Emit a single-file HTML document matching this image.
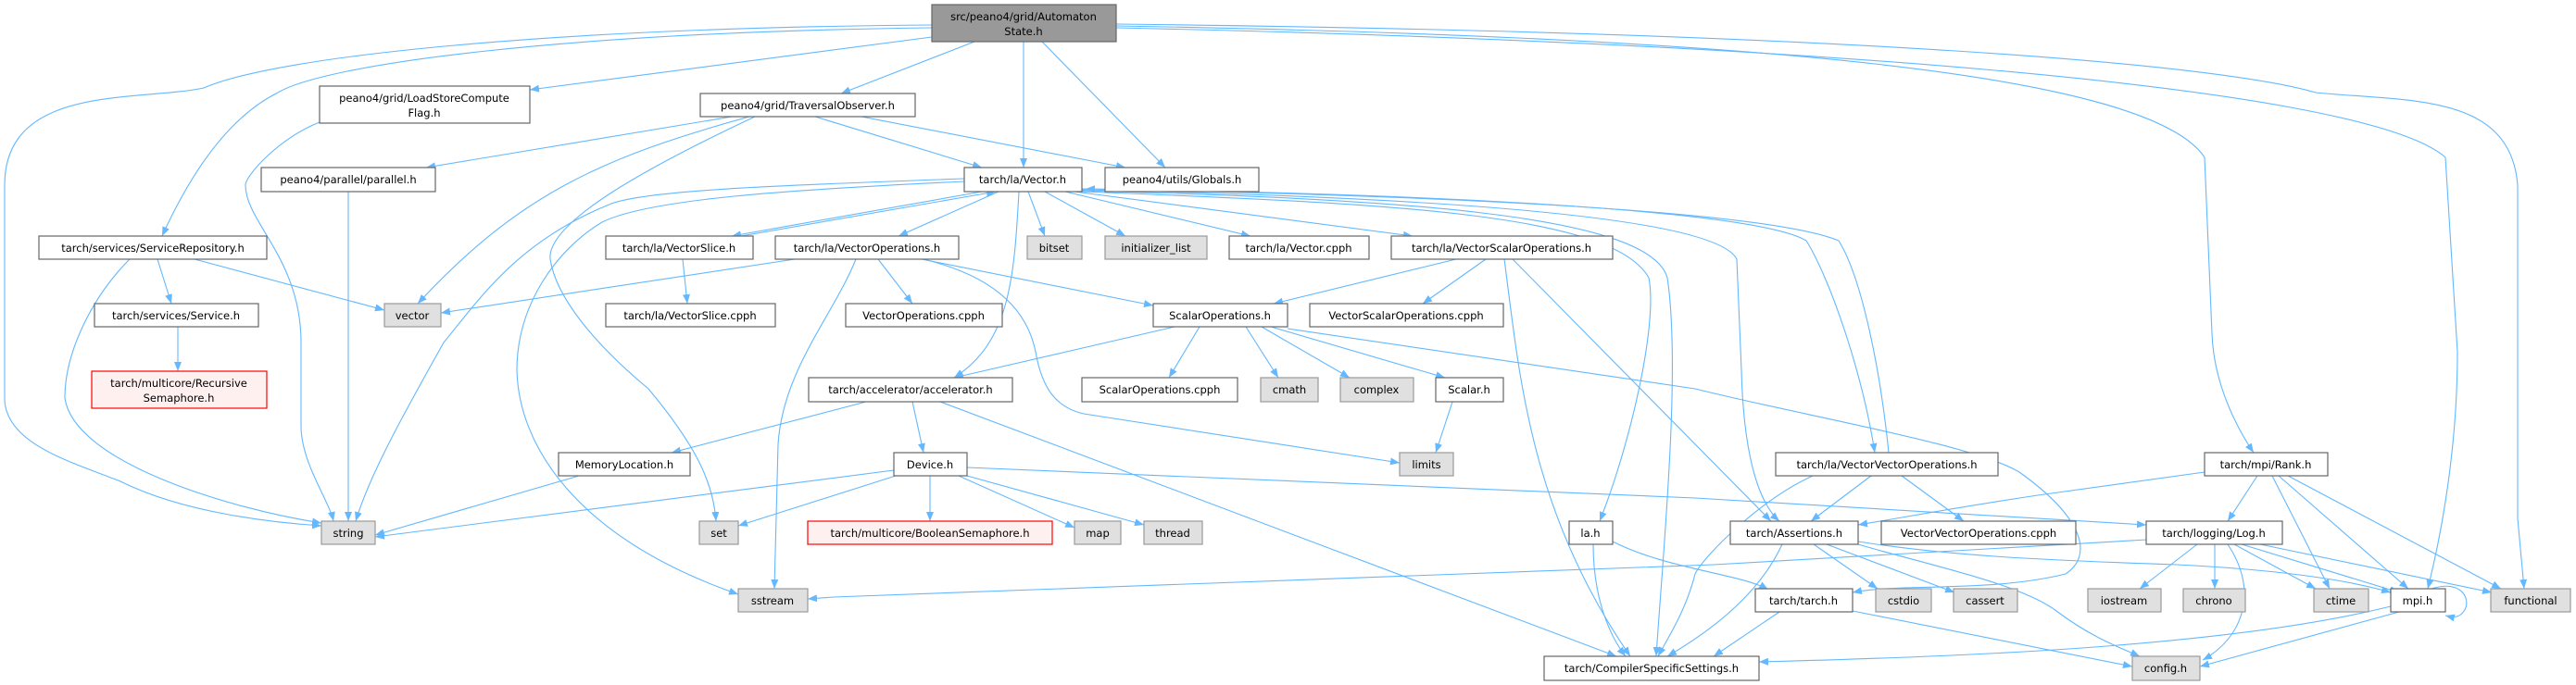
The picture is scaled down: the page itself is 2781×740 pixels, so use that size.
<!DOCTYPE html>
<html><head><meta charset="utf-8"><style>
html,body{margin:0;padding:0;background:#fff;}
svg{display:block;}
text{font-family:"DejaVu Sans","Liberation Sans",sans-serif;font-size:11.5px;fill:#000;text-anchor:middle;}
.e{fill:none;stroke:#63b8ff;stroke-width:1.1;marker-end:url(#a);}
.n{fill:#fff;stroke:#666;stroke-width:1.2;}
.g{fill:#e0e0e0;stroke:#999;stroke-width:1.2;}
.r{fill:#fff0f0;stroke:#ff0000;stroke-width:1.2;}
.m{fill:#999;stroke:#666;stroke-width:1.2;}
</style></head><body>
<svg width="2781" height="740" viewBox="0 0 2781 740" xmlns="http://www.w3.org/2000/svg">
<defs><marker id="a" viewBox="0 0 10 8" refX="10" refY="4" markerWidth="10" markerHeight="8" orient="auto" markerUnits="userSpaceOnUse"><path d="M0,0 L10,4 L0,8 z" fill="#63b8ff"/></marker></defs>
<g>
<path class="e" d="M1006,27 C600,30 300,60 220,95 C150,110 5,90 5,200 L5,430 C5,480 80,500 130,520 C200,555 300,565 347,568"/>
<path class="e" d="M1006,30 C600,35 350,70 300,100 C240,130 200,200 175,255"/>
<path class="e" d="M1006,40 L572,97"/>
<path class="e" d="M1052,45 L908,101"/>
<path class="e" d="M1105,45 L1105,181"/>
<path class="e" d="M1125,45 L1258,181"/>
<path class="e" d="M1205,28 C1900,40 2320,80 2380,170 L2388,360 C2390,420 2420,470 2433,489"/>
<path class="e" d="M1205,30 C1900,45 2550,90 2640,170 L2653,380 C2653,500 2630,600 2621,636"/>
<path class="e" d="M1205,26 C2000,35 2400,70 2500,100 C2600,110 2710,100 2718,200 L2718,560 L2725,636"/>
<path class="e" d="M345,132 C300,150 265,190 265,200 C265,240 325,280 325,370 L325,460 C325,500 355,540 360,563"/>
<path class="e" d="M376,207 L376,563"/>
<path class="e" d="M790,126 L460,181"/>
<path class="e" d="M809,126 C650,170 560,210 451,328"/>
<path class="e" d="M815,126 C700,180 590,240 594,280 C600,320 640,370 700,420 C750,480 770,520 773,563"/>
<path class="e" d="M880,126 L1060,181"/>
<path class="e" d="M930,126 L1215,181"/>
<path class="e" d="M170,280 L185,328"/>
<path class="e" d="M210,280 L415,335"/>
<path class="e" d="M140,280 C100,320 70,380 70,430 C80,500 250,550 347,565"/>
<path class="e" d="M192,353 L192,401"/>
<path class="e" d="M1041,193 C850,200 700,205 660,220 C560,260 520,320 479,370 C440,440 400,510 384,563"/>
<path class="e" d="M1041,196 C850,205 700,215 650,240 C600,270 558,330 558,400 C560,480 620,580 797,642"/>
<path class="e" d="M1060,207 L790,255"/>
<path class="e" d="M800,255 L1075,207"/>
<path class="e" d="M737,280 L742,328"/>
<path class="e" d="M1078,207 L970,255"/>
<path class="e" d="M1110,207 L1128,255"/>
<path class="e" d="M1128,207 L1215,255"/>
<path class="e" d="M1150,207 L1350,255"/>
<path class="e" d="M1160,207 L1525,255"/>
<path class="e" d="M1100,207 C1095,300 1090,370 1030,408"/>
<path class="e" d="M1168,207 C1500,220 1740,230 1780,300 C1790,350 1760,480 1727,563"/>
<path class="e" d="M1168,206 C1500,215 1780,230 1800,300 C1815,400 1795,600 1788,709"/>
<path class="e" d="M1168,205 C1500,212 1850,230 1875,280 L1880,400 C1882,480 1895,540 1921,563"/>
<path class="e" d="M1168,204 C1600,210 1900,230 1950,260 C1975,300 2010,400 2024,489"/>
<path class="e" d="M2039,489 C2030,400 2010,300 1985,260 C1900,225 1500,210 1172,204"/>
<path class="e" d="M858,280 L476,338"/>
<path class="e" d="M948,280 L985,328"/>
<path class="e" d="M995,280 L1245,330"/>
<path class="e" d="M924,280 C900,340 845,400 840,480 L836,636"/>
<path class="e" d="M997,280 C1080,300 1110,340 1118,380 C1125,420 1140,440 1170,447 L1511,500"/>
<path class="e" d="M1572,280 L1375,328"/>
<path class="e" d="M1604,280 L1536,328"/>
<path class="e" d="M1624,280 C1640,400 1650,550 1760,709"/>
<path class="e" d="M1633,280 L1912,563"/>
<path class="e" d="M1268,353 L1030,408"/>
<path class="e" d="M1295,353 L1262,408"/>
<path class="e" d="M1345,353 L1380,408"/>
<path class="e" d="M1362,353 L1457,408"/>
<path class="e" d="M1372,353 L1560,408"/>
<path class="e" d="M1390,355 L1830,420 C1950,450 2130,480 2180,510 C2250,560 2260,600 2230,620 C2150,640 2050,630 2000,640"/>
<path class="e" d="M935,434 L725,489"/>
<path class="e" d="M985,434 L997,489"/>
<path class="e" d="M1015,434 L1745,709"/>
<path class="e" d="M625,514 L405,578"/>
<path class="e" d="M965,508 L405,580"/>
<path class="e" d="M967,514 L797,568"/>
<path class="e" d="M1004,514 L1004,563"/>
<path class="e" d="M1035,514 L1160,570"/>
<path class="e" d="M1044,514 L1235,567"/>
<path class="e" d="M1044,505 L1830,538 L2317,567"/>
<path class="e" d="M1568,434 L1550,489"/>
<path class="e" d="M1720,588 C1720,650 1740,690 1755,709"/>
<path class="e" d="M1741,585 C1800,615 1880,620 1909,637"/>
<path class="e" d="M2318,583 L1850,610 L900,645 L872,647"/>
<path class="e" d="M1924,588 C1900,640 1850,680 1800,709"/>
<path class="e" d="M1958,588 L2027,636"/>
<path class="e" d="M1972,588 L2110,640"/>
<path class="e" d="M2006,588 C2080,610 2180,630 2220,660 C2260,690 2290,700 2310,709"/>
<path class="e" d="M2006,585 C2100,600 2200,605 2350,610 C2450,615 2530,625 2581,640"/>
<path class="e" d="M2020,514 L1955,563"/>
<path class="e" d="M2053,514 L2120,563"/>
<path class="e" d="M1957,514 C1900,540 1840,600 1830,620 C1820,660 1800,690 1790,709"/>
<path class="e" d="M2380,510 L2200,535 C2100,550 2050,560 2006,567"/>
<path class="e" d="M2437,514 L2405,563"/>
<path class="e" d="M2453,514 L2515,636"/>
<path class="e" d="M2460,514 L2600,636"/>
<path class="e" d="M2470,514 L2700,636"/>
<path class="e" d="M2372,588 L2310,636"/>
<path class="e" d="M2391,588 L2391,636"/>
<path class="e" d="M2405,588 C2440,640 2420,690 2378,713"/>
<path class="e" d="M2412,588 L2500,636"/>
<path class="e" d="M2420,588 L2590,640"/>
<path class="e" d="M2440,588 L2690,640"/>
<path class="e" d="M1921,661 L1850,709"/>
<path class="e" d="M2000,660 L2302,720"/>
<path class="e" d="M2625,636 C2660,625 2668,650 2660,660 C2655,668 2648,667 2640,665"/>
<path class="e" d="M2590,661 L2375,720"/>
<path class="e" d="M2581,655 C2400,700 2100,710 1899,715"/>
</g>
<g>
<rect class="m" x="1006" y="5" width="199" height="40"/><text x="1105" y="22">src/peano4/grid/Automaton</text><text x="1105" y="38">State.h</text>
<rect class="n" x="345" y="93" width="227" height="40"/><text x="458" y="110">peano4/grid/LoadStoreCompute</text><text x="458" y="126">Flag.h</text>
<rect class="n" x="756" y="101" width="232" height="25"/><text x="872" y="118">peano4/grid/TraversalObserver.h</text>
<rect class="n" x="282" y="181" width="188" height="26"/><text x="376" y="198">peano4/parallel/parallel.h</text>
<rect class="n" x="1041" y="181" width="127" height="26"/><text x="1104" y="198">tarch/la/Vector.h</text>
<rect class="n" x="1193" y="181" width="166" height="26"/><text x="1276" y="198">peano4/utils/Globals.h</text>
<rect class="n" x="42" y="255" width="246" height="25"/><text x="165" y="272">tarch/services/ServiceRepository.h</text>
<rect class="n" x="654" y="255" width="159" height="25"/><text x="733" y="272">tarch/la/VectorSlice.h</text>
<rect class="n" x="837" y="255" width="198" height="25"/><text x="936" y="272">tarch/la/VectorOperations.h</text>
<rect class="g" x="1109" y="255" width="59" height="25"/><text x="1138" y="272">bitset</text>
<rect class="g" x="1193" y="255" width="110" height="25"/><text x="1248" y="272">initializer_list</text>
<rect class="n" x="1327" y="255" width="151" height="25"/><text x="1402" y="272">tarch/la/Vector.cpph</text>
<rect class="n" x="1502" y="255" width="239" height="25"/><text x="1621" y="272">tarch/la/VectorScalarOperations.h</text>
<rect class="n" x="102" y="328" width="177" height="25"/><text x="190" y="345">tarch/services/Service.h</text>
<rect class="g" x="415" y="328" width="61" height="25"/><text x="445" y="345">vector</text>
<rect class="n" x="654" y="328" width="183" height="25"/><text x="745" y="345">tarch/la/VectorSlice.cpph</text>
<rect class="n" x="913" y="328" width="169" height="25"/><text x="997" y="345">VectorOperations.cpph</text>
<rect class="n" x="1245" y="328" width="145" height="25"/><text x="1317" y="345">ScalarOperations.h</text>
<rect class="n" x="1414" y="328" width="209" height="25"/><text x="1518" y="345">VectorScalarOperations.cpph</text>
<rect class="r" x="99" y="401" width="189" height="40"/><text x="193" y="418">tarch/multicore/Recursive</text><text x="193" y="434">Semaphore.h</text>
<rect class="n" x="873" y="408" width="220" height="26"/><text x="983" y="425">tarch/accelerator/accelerator.h</text>
<rect class="n" x="1168" y="408" width="168" height="26"/><text x="1252" y="425">ScalarOperations.cpph</text>
<rect class="g" x="1361" y="408" width="62" height="26"/><text x="1392" y="425">cmath</text>
<rect class="g" x="1447" y="408" width="79" height="26"/><text x="1486" y="425">complex</text>
<rect class="n" x="1550" y="408" width="73" height="26"/><text x="1586" y="425">Scalar.h</text>
<rect class="n" x="603" y="489" width="142" height="25"/><text x="674" y="506">MemoryLocation.h</text>
<rect class="n" x="965" y="489" width="79" height="25"/><text x="1004" y="506">Device.h</text>
<rect class="g" x="1511" y="489" width="58" height="25"/><text x="1540" y="506">limits</text>
<rect class="n" x="1917" y="489" width="240" height="25"/><text x="2037" y="506">tarch/la/VectorVectorOperations.h</text>
<rect class="n" x="2380" y="489" width="133" height="25"/><text x="2446" y="506">tarch/mpi/Rank.h</text>
<rect class="g" x="347" y="563" width="58" height="25"/><text x="376" y="580">string</text>
<rect class="g" x="755" y="563" width="42" height="25"/><text x="776" y="580">set</text>
<rect class="r" x="872" y="563" width="264" height="25"/><text x="1004" y="580">tarch/multicore/BooleanSemaphore.h</text>
<rect class="g" x="1160" y="563" width="50" height="25"/><text x="1185" y="580">map</text>
<rect class="g" x="1235" y="563" width="63" height="25"/><text x="1266" y="580">thread</text>
<rect class="n" x="1694" y="563" width="47" height="25"/><text x="1717" y="580">la.h</text>
<rect class="n" x="1868" y="563" width="138" height="25"/><text x="1937" y="580">tarch/Assertions.h</text>
<rect class="n" x="2031" y="563" width="210" height="25"/><text x="2136" y="580">VectorVectorOperations.cpph</text>
<rect class="n" x="2317" y="563" width="147" height="25"/><text x="2390" y="580">tarch/logging/Log.h</text>
<rect class="g" x="797" y="636" width="75" height="25"/><text x="834" y="653">sstream</text>
<rect class="n" x="1895" y="636" width="105" height="25"/><text x="1947" y="653">tarch/tarch.h</text>
<rect class="g" x="2025" y="636" width="60" height="25"/><text x="2055" y="653">cstdio</text>
<rect class="g" x="2109" y="636" width="69" height="25"/><text x="2143" y="653">cassert</text>
<rect class="g" x="2254" y="636" width="79" height="25"/><text x="2293" y="653">iostream</text>
<rect class="g" x="2357" y="636" width="67" height="25"/><text x="2390" y="653">chrono</text>
<rect class="g" x="2498" y="636" width="59" height="25"/><text x="2527" y="653">ctime</text>
<rect class="n" x="2581" y="636" width="59" height="25"/><text x="2610" y="653">mpi.h</text>
<rect class="g" x="2689" y="636" width="86" height="25"/><text x="2732" y="653">functional</text>
<rect class="n" x="1667" y="709" width="232" height="26"/><text x="1783" y="726">tarch/CompilerSpecificSettings.h</text>
<rect class="g" x="2302" y="709" width="73" height="26"/><text x="2338" y="726">config.h</text>
</g>
</svg>
</body></html>
